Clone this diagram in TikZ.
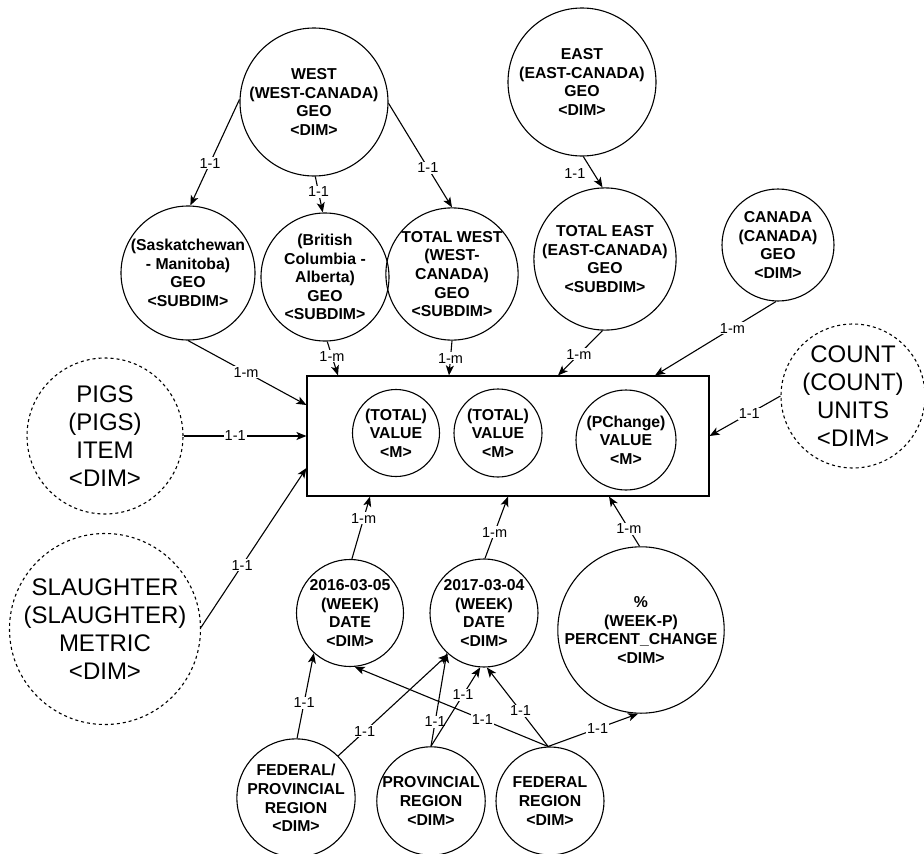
\documentclass[tikz,border=0pt]{standalone}
\usepackage{fontspec}
\setmainfont{Liberation Sans}
\usetikzlibrary{arrows.meta}

\begin{document}
\begin{tikzpicture}[x=1pt,y=-1pt,
  ent/.style={draw, circle, line width=1.1pt, inner sep=0pt, align=center,
    font=\fontsize{15.8}{18.6}\selectfont\bfseries},
  dimbig/.style={draw, circle, line width=1.1pt, dash pattern=on 3pt off 3pt,
    inner sep=0pt, align=center, font=\fontsize{24}{28}\selectfont},
  factbox/.style={draw, line width=1.1pt, minimum width=402pt,
    minimum height=120pt, inner sep=0pt},
  rel/.style={-{Stealth[length=10pt,width=8pt,inset=2.5pt]}, line width=1.1pt},
  lbl/.style={fill=white, inner sep=1pt, font=\fontsize{14.5}{16}\selectfont},
]
\useasboundingbox (0,0) rectangle (924,854);

% geography hierarchy
\node[ent, minimum size=148pt] (west) at (314,102) {WEST\\(WEST-CANADA)\\GEO\\<DIM>};
\node[ent, minimum size=134pt] (sask) at (188,273) {(Saskatchewan\\- Manitoba)\\GEO\\<SUBDIM>};
\node[ent, minimum size=128pt] (bc) at (325,277) {(British\\Columbia -\\Alberta)\\GEO\\<SUBDIM>};
\node[ent, minimum size=130pt] (totw) at (452,274) {TOTAL WEST\\(WEST-\\CANADA)\\GEO\\<SUBDIM>};
\node[ent, minimum size=148pt] (east) at (582,82) {EAST\\(EAST-CANADA)\\GEO\\<DIM>};
\node[ent, minimum size=134pt] (tote) at (605,259) {TOTAL EAST\\(EAST-CANADA)\\GEO\\<SUBDIM>};
\node[ent, minimum size=112pt] (canada) at (778,245) {CANADA\\(CANADA)\\GEO\\<DIM>};

% other dimensions
\node[dimbig, minimum size=144pt] (count) at (853,396) {COUNT\\(COUNT)\\UNITS\\<DIM>};
\node[dimbig, minimum size=156pt] (pigs) at (105,436) {PIGS\\(PIGS)\\ITEM\\<DIM>};
\node[dimbig, minimum size=188pt] (slaughter) at (105,629) {SLAUGHTER\\(SLAUGHTER)\\METRIC\\<DIM>};

% fact table with its measures
\node[factbox] (facts) at (508,436) {};
\node[ent, minimum size=87pt] (v1) at (396,433) {(TOTAL)\\VALUE\\<M>};
\node[ent, minimum size=88pt] (v2) at (498,433) {(TOTAL)\\VALUE\\<M>};
\node[ent, minimum size=100pt] (v3) at (626,440) {(PChange)\\VALUE\\<M>};

% time and region dimensions
\node[ent, minimum size=107pt] (d2016) at (350,613) {2016-03-05\\(WEEK)\\DATE\\<DIM>};
\node[ent, minimum size=108pt] (d2017) at (484,613) {2017-03-04\\(WEEK)\\DATE\\<DIM>};
\node[ent, minimum size=160pt] (pct) at (641,630) {\%\\(WEEK-P)\\PERCENT\_CHANGE\\<DIM>};
\node[ent, minimum size=108pt] (fedprov) at (296,798) {FEDERAL/\\PROVINCIAL\\REGION\\<DIM>};
\node[ent, minimum size=108pt] (prov) at (431,801) {PROVINCIAL\\REGION\\<DIM>};
\node[ent, minimum size=108pt] (fed) at (550,801) {FEDERAL\\REGION\\<DIM>};

% hierarchy links
\draw[rel] (west.178) -- node[lbl,pos=0.6]{1-1} (sask.88);
\draw[rel] (west.271) -- node[lbl,pos=0.43]{1-1} (bc.92);
\draw[rel] (west.359) -- node[lbl,pos=0.62]{1-1} (totw.90);
\draw[rel] (east.271) -- node[lbl,pos=0.55,xshift=-19pt]{1-1} (tote.92);

% links into the fact table
\draw[rel] (sask.270) -- node[lbl,pos=0.49]{1-m} ([yshift=31pt]facts.west);
\draw[rel] (bc.272) -- node[lbl,pos=0.44]{1-m} ([xshift=-170pt]facts.north);
\draw[rel] (totw.270) -- node[lbl,pos=0.5]{1-m} ([xshift=-59pt]facts.north);
\draw[rel] (tote.268) -- node[lbl,pos=0.53]{1-m} ([xshift=50pt]facts.north);
\draw[rel] (canada.268) -- node[lbl,pos=0.36]{1-m} ([xshift=147pt]facts.north);
\draw[rel] (count.180) -- node[lbl,pos=0.44]{1-1} (facts.east);
\draw[rel] (pigs.0) -- node[lbl,pos=0.42]{1-1} (facts.west);
\draw[rel] (slaughter.1) -- node[lbl,pos=0.39]{1-1} ([yshift=-32pt]facts.west);
\draw[rel] (d2016.88) -- node[lbl,pos=0.65]{1-m} ([xshift=-138pt]facts.south);
\draw[rel] (d2017.89) -- node[lbl,pos=0.42]{1-m} (facts.south);
\draw[rel] (pct.91) -- node[lbl,pos=0.35]{1-m} ([xshift=101pt]facts.south);

% region links
\draw[rel] (fedprov.89) -- node[lbl,pos=0.42]{1-1} (d2016.228);
\draw[rel] (fedprov.45) -- node[lbl,pos=0.24]{1-1} (d2017.229);
\draw[rel] (prov.90) -- node[lbl,pos=0.26]{1-1} (d2017.227);
\draw[rel] (prov.90) -- node[lbl,pos=0.65]{1-1} (d2017.266);
\draw[rel] (fed.92) -- node[lbl,pos=0.34]{1-1} (d2016.275);
\draw[rel] (fed.92) -- node[lbl,pos=0.45]{1-1} (d2017.273);
\draw[rel] (fed.92) -- node[lbl,pos=0.55]{1-1} (pct.268);
\end{tikzpicture}
\end{document}
